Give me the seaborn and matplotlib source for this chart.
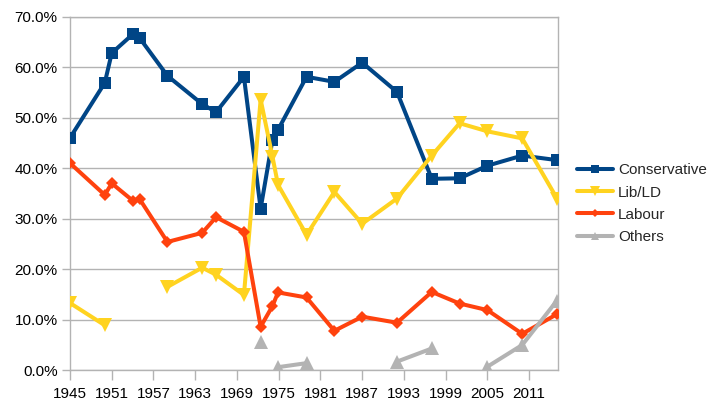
import numpy as np
import pandas as pd
import matplotlib
matplotlib.use("Agg")
import matplotlib.pyplot as plt
from matplotlib.lines import Line2D
from matplotlib.ticker import FuncFormatter
import seaborn as sns

nan = np.nan
years = [1945, 1950, 1951, 1954, 1955, 1959, 1964, 1966, 1970, 1972.4, 1974.1, 1974.9,
         1979, 1983, 1987, 1992, 1997, 2001, 2005, 2010, 2015]
conservative = [46.0, 56.9, 62.8, 66.5, 65.8, 58.3, 52.7, 51.1, 58.1, 32.0, 45.6, 47.6,
                58.1, 57.1, 60.9, 55.1, 37.9, 38.0, 40.5, 42.5, 41.6]
lib_ld = [13.3, 8.9, nan, nan, nan, 16.5, 20.3, 18.9, 14.9, 53.6, 42.3, 36.7,
          26.8, 35.3, 29.0, 34.0, 42.5, 48.9, 47.3, 45.9, 34.0]
labour = [41.0, 34.7, 37.0, 33.6, 33.9, 25.4, 27.2, 30.3, 27.4, 8.6, 12.7, 15.4,
          14.4, 7.8, 10.6, 9.4, 15.5, 13.2, 11.9, 7.2, 11.1]
others = [nan, nan, nan, nan, nan, nan, nan, nan, nan, 5.6, nan, 0.6,
          1.4, nan, nan, 1.7, 4.3, nan, 0.7, 5.0, 13.8]

series_names = ["Conservative", "Lib/LD", "Labour", "Others"]
series_values = [conservative, lib_ld, labour, others]
colors = ["#004586", "#ffd320", "#ff420e", "#b3b3b3"]
markers = ["s", "v", "D", "^"]
msizes = [9, 10, 6.6, 9.5]
xticks = list(range(1945, 2012, 6))
yticks = [0, 10, 20, 30, 40, 50, 60, 70]

sns.set_style("white")
plt.rcParams["font.family"] = ["Liberation Sans", "DejaVu Sans"]
plt.rcParams["font.size"] = 11

fig = plt.figure(figsize=(7.24, 4.08), dpi=100)
W, H = 724, 408
L, R, T, B = 70, 557.7, 16.7, 370.2
ax = fig.add_axes([L / W, 1 - B / H, (R - L) / W, (B - T) / H])

frames = []
for name, vals in zip(series_names, series_values):
    df = pd.DataFrame({"year": years, "pct": vals})
    seg = df["pct"].isna().cumsum()
    df["seg"] = seg
    df["party"] = name
    frames.append(df.dropna())
data = pd.concat(frames, ignore_index=True)

for name, c, m, ms in zip(series_names, colors, markers, msizes):
    sub = data[data["party"] == name]
    sns.lineplot(data=sub, x="year", y="pct", units="seg", estimator=None, sort=False,
                 color=c, marker=m, markersize=ms, markeredgewidth=0, linewidth=2.9,
                 ax=ax, legend=False, zorder=3)

ax.set_xlim(1945, 2015.1)
ax.set_ylim(0, 70)
ax.set_xticks(xticks)
ax.set_yticks(yticks)
ax.yaxis.set_major_formatter(FuncFormatter(lambda v, p: f"{v:.1f}%"))
ax.set_xlabel("")
ax.set_ylabel("")
ax.grid(axis="y", color="#b3b3b3", linewidth=1.0)
ax.grid(axis="x", visible=False)
for s in ax.spines.values():
    s.set_color("#b3b3b3")
    s.set_linewidth(1.0)
ax.tick_params(axis="both", which="major", direction="out", color="#b3b3b3",
               width=1.0, labelsize=11, labelcolor="black")
ax.tick_params(axis="x", length=7, pad=5, bottom=True)
ax.tick_params(axis="y", length=6, pad=3, left=True)

handles = [Line2D([], [], color=c, marker=m, markersize=ms * 0.65, markeredgewidth=0,
                  linewidth=2.9) for c, m, ms in zip(colors, markers, msizes)]
fig.legend(handles, series_names, loc="center left", bbox_to_anchor=(577 / W, 1 - 203.7 / H),
           frameon=False, borderpad=0, borderaxespad=0, handlelength=2.35,
           handletextpad=0.33, labelspacing=0.54, fontsize=11)

fig.savefig("out.png", dpi=100)
